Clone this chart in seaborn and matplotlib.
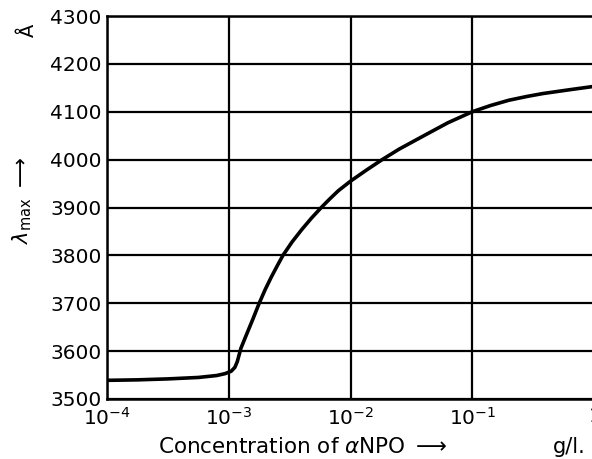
import numpy as np
import pandas as pd
import matplotlib
matplotlib.use("Agg")
import matplotlib.pyplot as plt
import seaborn as sns

# log10 of concentration (g/l) and lambda_max (Angstrom)
log_conc = [-4.0, -3.75, -3.5, -3.25, -3.1, -3.03, -2.98, -2.95, -2.93, -2.915,
            -2.90, -2.86, -2.80, -2.75, -2.70, -2.65, -2.60, -2.555, -2.48, -2.40,
            -2.32, -2.24, -2.17, -2.10, -2.0, -1.87, -1.74, -1.6, -1.39, -1.2,
            -1.0, -0.85, -0.7, -0.55, -0.42, -0.2, 0.0]
lambda_max = [3539, 3540, 3542, 3545, 3549, 3553, 3558, 3566, 3578, 3592,
              3606, 3631, 3668, 3700, 3729, 3755, 3779, 3800, 3828, 3854,
              3878, 3900, 3918, 3935, 3955, 3978, 4000, 4022, 4051, 4077,
              4100, 4113, 4124, 4132, 4138, 4146, 4153]

x_ticks = [1e-4, 1e-3, 1e-2, 1e-1, 1.0]
x_ticklabels = [r"$10^{-4}$", r"$10^{-3}$", r"$10^{-2}$", r"$10^{-1}$", r"$1$"]
y_ticks = [3500, 3600, 3700, 3800, 3900, 4000, 4100, 4200, 4300]

df = pd.DataFrame({"conc": [10 ** v for v in log_conc], "lam": lambda_max})

sns.set_theme(style="white")
plt.rcParams["font.family"] = ["DejaVu Sans"]
plt.rcParams["mathtext.fontset"] = "dejavusans"

fig = plt.figure(figsize=(5.92, 4.59), dpi=100)
ax = fig.add_axes([107 / 592, 60 / 459, (594 - 107) / 592, (399 - 16) / 459])

sns.lineplot(data=df, x="conc", y="lam", ax=ax, color="black", linewidth=2.6)
ax.set_xscale("log")
ax.set_xlim(1e-4, 1.0)
ax.set_ylim(3500, 4300)
ax.set_xticks(x_ticks)
ax.set_xticklabels(x_ticklabels)
ax.set_yticks(y_ticks)
ax.minorticks_off()
ax.grid(True, color="black", linewidth=1.6)
ax.set_axisbelow(True)
for s in ax.spines.values():
    s.set_color("black")
    s.set_linewidth(1.8)
ax.tick_params(axis="both", length=0, colors="black", labelsize=14.5)
ax.tick_params(axis="y", pad=4)
ax.tick_params(axis="x", pad=6)
ax.set_xlabel("")
ax.set_ylabel("")

fig.text(158 / 592, 1 - 447 / 459, r"Concentration of $\alpha$NPO $\longrightarrow$",
         fontsize=15.5, ha="left", va="center", color="black")
fig.text(553 / 592, 1 - 447 / 459, "g/l.", fontsize=15, ha="left", va="center", color="black")
fig.text(22 / 592, 1 - 200 / 459, r"$\lambda_{\mathrm{max}}$ $\longrightarrow$",
         fontsize=15, rotation=90, ha="center", va="center", color="black")
fig.text(28 / 592, 1 - 30 / 459, "Å", fontsize=14, rotation=90, ha="center", va="center", color="black")

fig.savefig("out.png", dpi=100)
